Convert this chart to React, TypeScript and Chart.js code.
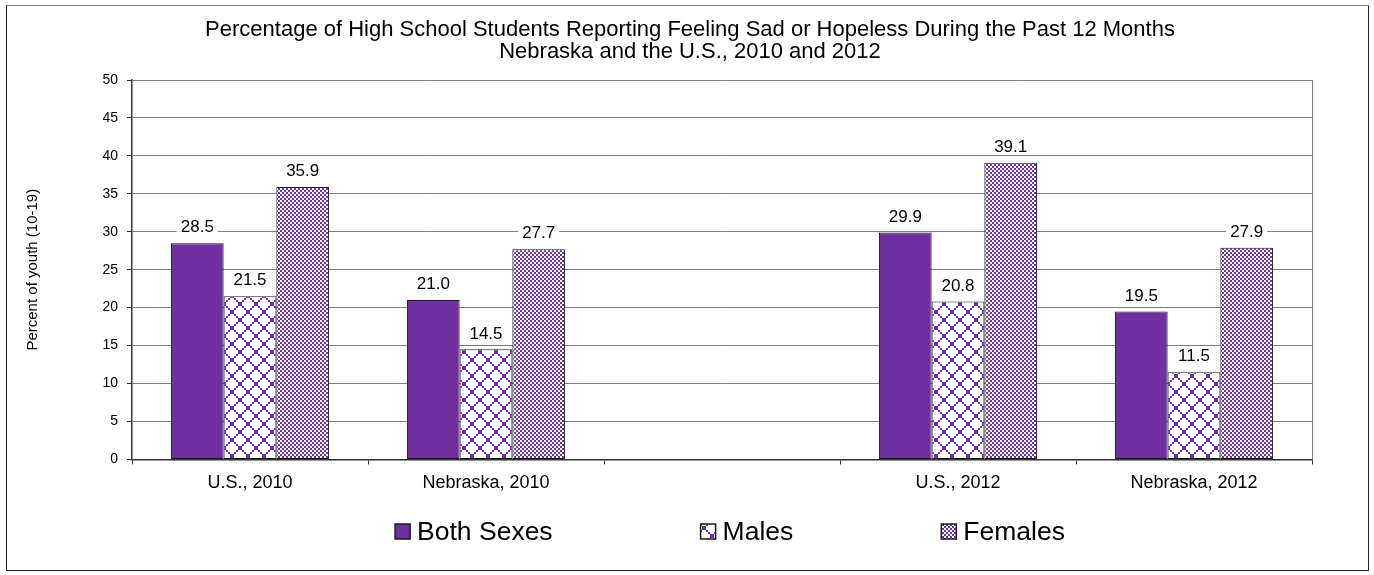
import React, { useEffect, useRef } from 'react';
import { Chart, registerables } from 'chart.js';

Chart.register(...registerables);

// ---- Data ----
const categories = ['U.S., 2010', 'Nebraska, 2010', '', 'U.S., 2012', 'Nebraska, 2012'];
const seriesNames = ['Both Sexes', 'Males', 'Females'];
const bothSexes = [28.5, 21.0, null, 29.9, 19.5];
const males = [21.5, 14.5, null, 20.8, 11.5];
const females = [35.9, 27.7, null, 39.1, 27.9];
const titleLines = [
  'Percentage of High School Students Reporting Feeling Sad or Hopeless During the Past 12 Months',
  'Nebraska and the U.S., 2010 and 2012',
];
const yAxisTitle = 'Percent of youth (10-19)';
const yMin = 0;
const yMax = 50;
const yStep = 5;

const PURPLE = '#7030A0';
const FONT = '"Liberation Sans", Arial, sans-serif';

function makeSolid(): string {
  return PURPLE;
}

function makeDiamondPattern(ctx: CanvasRenderingContext2D): CanvasPattern | string {
  const c = document.createElement('canvas');
  c.width = 16;
  c.height = 16;
  const g = c.getContext('2d');
  if (!g) return PURPLE;
  g.fillStyle = '#ffffff';
  g.fillRect(0, 0, 16, 16);
  g.fillStyle = PURPLE;
  for (let i = 0; i < 8; i++) {
    g.fillRect(2 * i, 2 * i, 2, 2);
    g.fillRect(14 - 2 * i, 2 * i, 2, 2);
  }
  return ctx.createPattern(c, 'repeat') || PURPLE;
}

function makeCheckerPattern(ctx: CanvasRenderingContext2D): CanvasPattern | string {
  const c = document.createElement('canvas');
  c.width = 4;
  c.height = 4;
  const g = c.getContext('2d');
  if (!g) return PURPLE;
  g.fillStyle = PURPLE;
  g.fillRect(0, 0, 4, 4);
  g.fillStyle = '#ffffff';
  g.fillRect(0, 0, 2, 2);
  g.fillRect(2, 2, 2, 2);
  return ctx.createPattern(c, 'repeat') || PURPLE;
}

const titlePlugin = {
  id: 'centeredTitle',
  afterDraw(chart: any) {
    const ctx: CanvasRenderingContext2D = chart.ctx;
    ctx.save();
    ctx.font = `22px ${FONT}`;
    ctx.fillStyle = '#000000';
    ctx.textAlign = 'center';
    ctx.textBaseline = 'middle';
    const cx = chart.width / 2 + 3;
    titleLines.forEach((line, i) => {
      ctx.fillText(line, cx, 30 + i * 22);
    });
    ctx.restore();
  },
};

const valueLabelPlugin = {
  id: 'valueLabels',
  afterDatasetsDraw(chart: any) {
    const ctx: CanvasRenderingContext2D = chart.ctx;
    ctx.save();
    ctx.font = `17px ${FONT}`;
    ctx.textAlign = 'center';
    ctx.textBaseline = 'middle';
    chart.data.datasets.forEach((ds: any, di: number) => {
      const meta = chart.getDatasetMeta(di);
      meta.data.forEach((bar: any, i: number) => {
        const v = ds.data[i];
        if (v === null || v === undefined) return;
        const text = Number(v).toFixed(1);
        const w = ctx.measureText(text).width;
        const y = bar.y - 17;
        ctx.fillStyle = '#ffffff';
        ctx.fillRect(bar.x - w / 2 - 4, y - 9, w + 8, 18);
        ctx.fillStyle = '#000000';
        ctx.fillText(text, bar.x, y + 1.5);
      });
    });
    ctx.restore();
  },
};

const plotBorderPlugin = {
  id: 'plotBorder',
  beforeDatasetsDraw(chart: any) {
    const { ctx, chartArea } = chart;
    ctx.save();
    ctx.strokeStyle = '#808080';
    ctx.lineWidth = 1;
    ctx.beginPath();
    ctx.moveTo(chartArea.right + 0.5, chartArea.top);
    ctx.lineTo(chartArea.right + 0.5, chartArea.bottom);
    ctx.stroke();
    ctx.restore();
  },
};

const bottomLegendPlugin = {
  id: 'bottomLegend',
  afterDraw(chart: any) {
    const ctx: CanvasRenderingContext2D = chart.ctx;
    ctx.save();
    ctx.font = `26.5px ${FONT}`;
    const box = 15;
    const gapBoxText = 7;
    const gapItems = 148;
    const items = chart.data.datasets.map((ds: any) => ({
      label: ds.label as string,
      fill: ds.backgroundColor,
      w: box + gapBoxText + ctx.measureText(ds.label).width,
    }));
    const total = items.reduce((s: number, it: any) => s + it.w, 0) + gapItems * (items.length - 1);
    const centerX = (chart.chartArea.left + chart.chartArea.right) / 2 + 8;
    let x = centerX - total / 2;
    const y = chart.height - 43.5;
    items.forEach((it: any) => {
      ctx.fillStyle = it.fill;
      ctx.fillRect(x, y - box / 2, box, box);
      ctx.strokeStyle = '#1a1a1a';
      ctx.lineWidth = 1.5;
      ctx.strokeRect(x, y - box / 2, box, box);
      ctx.fillStyle = '#000000';
      ctx.textAlign = 'left';
      ctx.textBaseline = 'middle';
      ctx.fillText(it.label, x + box + gapBoxText, y + 1);
      x += it.w + gapItems;
    });
    ctx.restore();
  },
};

export default function App() {
  const canvasRef = useRef<HTMLCanvasElement | null>(null);

  useEffect(() => {
    const canvas = canvasRef.current;
    if (!canvas) return;
    const ctx = canvas.getContext('2d');
    if (!ctx) return;

    const fills = [makeSolid(), makeDiamondPattern(ctx), makeCheckerPattern(ctx)];
    const seriesData = [bothSexes, males, females];

    const chart = new Chart(canvas, {
      type: 'bar',
      data: {
        labels: categories,
        datasets: seriesNames.map((name, i) => ({
          label: name,
          data: seriesData[i],
          backgroundColor: fills[i] as any,
          borderColor: '#1a1a1a',
          borderWidth: 1,
          borderSkipped: false,
          categoryPercentage: 0.67,
          barPercentage: 1,
        })),
      },
      options: {
        responsive: false,
        animation: false,
        events: [],
        layout: { padding: { left: 20, right: 62, top: 80, bottom: 74 } },
        font: { family: FONT },
        plugins: {
          legend: { display: false },
          tooltip: { enabled: false },
          title: { display: false },
        },
        scales: {
          x: {
            type: 'category',
            offset: true,
            grid: {
              offset: true,
              drawOnChartArea: false,
              drawTicks: true,
              tickLength: 5,
              color: '#333333',
              tickColor: '#333333',
            },
            border: { display: true, color: '#333333', width: 1.5 },
            ticks: {
              color: '#000000',
              font: { family: FONT, size: 18 },
              padding: 7.5,
              maxRotation: 0,
              autoSkip: false,
            },
          },
          y: {
            min: yMin,
            max: yMax,
            ticks: {
              stepSize: yStep,
              color: '#000000',
              font: { family: FONT, size: 14 },
              padding: 9,
            },
            grid: {
              color: '#808080',
              tickColor: '#333333',
              tickLength: 5,
              drawTicks: true,
            },
            border: { display: true, color: '#333333', width: 1.5 },
            title: {
              display: true,
              text: yAxisTitle,
              color: '#000000',
              font: { family: FONT, size: 15 },
              padding: { top: 4, bottom: 4 },
            },
            afterFit: (scale: any) => {
              scale.width = 112;
            },
          },
        },
      },
      plugins: [plotBorderPlugin, valueLabelPlugin, bottomLegendPlugin, titlePlugin],
    } as any);

    return () => {
      chart.destroy();
    };
  }, []);

  return (
    <div style={{ position: 'absolute', left: 0, top: 0, width: 1374, height: 575, background: '#ffffff' }}>
      <div
        style={{
          position: 'absolute',
          left: 6,
          top: 5,
          width: 1363,
          height: 566,
          boxSizing: 'border-box',
          borderLeft: '1px solid #222222',
          borderRight: '1px solid #222222',
          borderBottom: '1px solid #222222',
          borderTop: '1px solid #888888',
        }}
      />
      <canvas
        ref={canvasRef}
        width={1374}
        height={575}
        style={{ position: 'absolute', left: 0, top: 0, width: 1374, height: 575 }}
      />
    </div>
  );
}
